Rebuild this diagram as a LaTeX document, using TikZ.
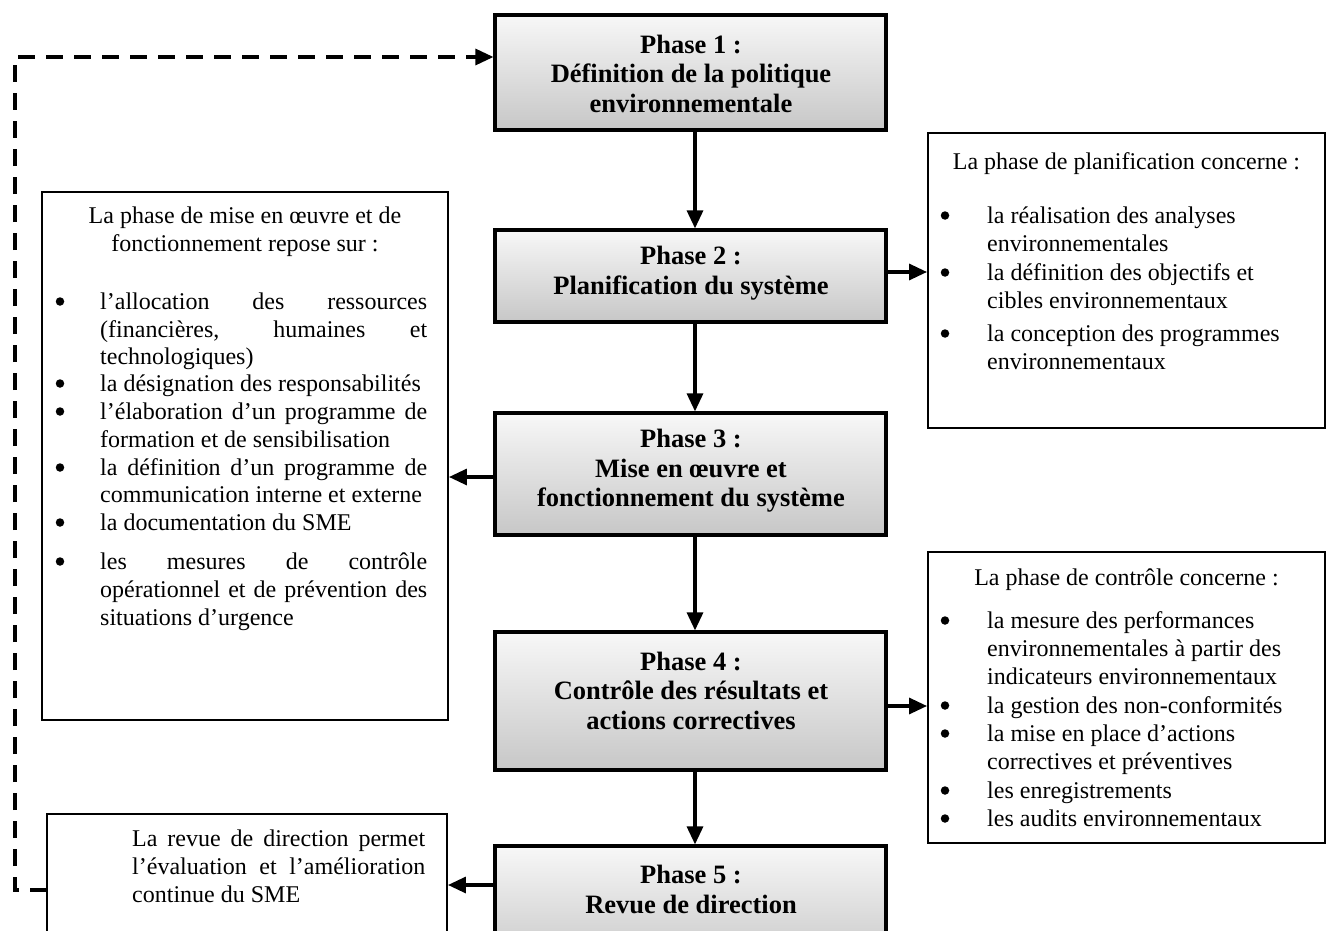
\documentclass[tikz,border=0pt]{standalone}
\usepackage{fontspec}
\setmainfont{Liberation Serif}
\usetikzlibrary{arrows.meta}
\begin{document}
\begin{tikzpicture}[x=1pt,y=-1pt,
  phasebox/.style={draw, line width=3.2pt, top color=black!3, bottom color=black!22, inner sep=0pt},
  infobox/.style={draw, line width=1.9pt, fill=white, inner sep=0pt},
  phasetxt/.style={font=\bfseries\fontsize{26.5}{29.5}\selectfont, align=center, inner sep=0pt},
  bodytxt/.style={font=\fontsize{24}{28}\selectfont, inner sep=0pt, anchor=base west},
  headtxt/.style={font=\fontsize{24}{28}\selectfont, inner sep=0pt, anchor=base},
  dot/.style={circle, fill=black, inner sep=0pt, minimum size=8.5pt, yshift=7.5pt},
  arr/.style={line width=3.2pt, -{Triangle[length=18pt,width=16pt]}},
  fback/.style={line width=3.2pt, dash pattern=on 17pt off 11pt, -{Triangle[length=18pt,width=16pt]}}]
\useasboundingbox (0,0) rectangle (1328,931);
\clip (0,0) rectangle (1328,931);

% phase boxes
\node[phasebox, minimum width=391pt, minimum height=115pt] (p1) at (690.5,72.5) {};
\node[phasebox, minimum width=391pt, minimum height=92pt] (p2) at (690.5,276) {};
\node[phasebox, minimum width=391pt, minimum height=122pt] (p3) at (690.5,474) {};
\node[phasebox, minimum width=391pt, minimum height=138pt] (p4) at (690.5,701) {};
\node[phasebox, minimum width=391pt, minimum height=120pt] (p5) at (690.5,906) {};

\node[phasetxt] (p1t) at (691,73.5) {Phase 1 :\\Définition de la politique\\environnementale};
\node[phasetxt] (p2t) at (691,273) {Phase 2 :\\Planification du système};
\node[phasetxt] (p3t) at (691,471) {Phase 3 :\\Mise en œuvre et\\fonctionnement du système};
\node[phasetxt] (p4t) at (691,690.5) {Phase 4 :\\Contrôle des résultats et\\actions correctives};
\node[phasetxt] (p5t) at (691,889.5) {Phase 5 :\\Revue de direction};

% info boxes
\node[infobox, minimum width=397pt, minimum height=295pt] (rb1) at (1126.5,280.5) {};
\node[infobox, minimum width=406pt, minimum height=528pt] (lb) at (245,456) {};
\node[infobox, minimum width=397pt, minimum height=291pt] (rb2) at (1126.5,697.5) {};
\node[infobox, minimum width=400pt, minimum height=140pt] (bb) at (247,884) {};

% right box 1
\node[headtxt] (r1h) at (1126.5,169) {La phase de planification concerne :};
\node[dot] (r1b1) at (945,223) {};
\node[bodytxt] (r1a) at (987,223) {la réalisation des analyses};
\node[bodytxt] (r1b) at (987,251) {environnementales};
\node[dot] (r1b2) at (945,280) {};
\node[bodytxt] (r1c) at (987,280) {la définition des objectifs et};
\node[bodytxt] (r1d) at (987,308) {cibles environnementaux};
\node[dot] (r1b3) at (945,341) {};
\node[bodytxt] (r1e) at (987,341) {la conception des programmes};
\node[bodytxt] (r1f) at (987,369) {environnementaux};

% left box
\node[headtxt] (lh1) at (245,223) {La phase de mise en œuvre et de};
\node[headtxt] (lh2) at (245,251) {fonctionnement repose sur :};
\node[dot] (lbb1) at (60,309) {};
\node[bodytxt] (l1) at (100,309) {\makebox[327pt][s]{l’allocation des ressources}};
\node[bodytxt] (l2) at (100,337) {\makebox[327pt][s]{(financières, humaines et}};
\node[bodytxt] (l3) at (100,364) {technologiques)};
\node[dot] (lbb2) at (60,391) {};
\node[bodytxt] (l4) at (100,391) {la désignation des responsabilités};
\node[dot] (lbb3) at (60,419) {};
\node[bodytxt] (l5) at (100,419) {\makebox[327pt][s]{l’élaboration d’un programme de}};
\node[bodytxt] (l6) at (100,447) {formation et de sensibilisation};
\node[dot] (lbb4) at (60,475) {};
\node[bodytxt] (l7) at (100,475) {\makebox[327pt][s]{la définition d’un programme de}};
\node[bodytxt] (l8) at (100,502) {communication interne et externe};
\node[dot] (lbb5) at (60,530) {};
\node[bodytxt] (l9) at (100,530) {la documentation du SME};
\node[dot] (lbb6) at (60,569) {};
\node[bodytxt] (l10) at (100,569) {\makebox[327pt][s]{les mesures de contrôle}};
\node[bodytxt] (l11) at (100,597) {\makebox[327pt][s]{opérationnel et de prévention des}};
\node[bodytxt] (l12) at (100,625) {situations d’urgence};

% right box 2
\node[headtxt] (r2h) at (1126.5,585) {La phase de contrôle concerne :};
\node[dot] (r2b1) at (945,628) {};
\node[bodytxt] (r2a) at (987,628) {la mesure des performances};
\node[bodytxt] (r2b) at (987,656) {environnementales à partir des};
\node[bodytxt] (r2c) at (987,684) {indicateurs environnementaux};
\node[dot] (r2b2) at (945,713) {};
\node[bodytxt] (r2d) at (987,713) {la gestion des non-conformités};
\node[dot] (r2b3) at (945,741) {};
\node[bodytxt] (r2e) at (987,741) {la mise en place d’actions};
\node[bodytxt] (r2f) at (987,769) {correctives et préventives};
\node[dot] (r2b4) at (945,798) {};
\node[bodytxt] (r2g) at (987,798) {les enregistrements};
\node[dot] (r2b5) at (945,826) {};
\node[bodytxt] (r2h2) at (987,826) {les audits environnementaux};

% bottom-left box
\node[bodytxt] (b1) at (132,846) {\makebox[293pt][s]{La revue de direction permet}};
\node[bodytxt] (b2) at (132,874) {\makebox[293pt][s]{l’évaluation et l’amélioration}};
\node[bodytxt] (b3) at (132,902) {continue du SME};

% connectors
\draw[arr] (p1.south -| 695,0) -- (p2.north -| 695,0);
\draw[arr] (p2.south -| 695,0) -- (p3.north -| 695,0);
\draw[arr] (p3.south -| 695,0) -- (p4.north -| 695,0);
\draw[arr] (p4.south -| 695,0) -- (p5.north -| 695,0);
\draw[arr] (p2.east |- 0,272) -- (rb1.west |- 0,272);
\draw[arr] (p3.west |- 0,477) -- (lb.east |- 0,477);
\draw[arr] (p4.east |- 0,706) -- (rb2.west |- 0,706);
\draw[arr] (p5.west |- 0,885) -- (bb.east |- 0,885);

\coordinate (c0) at (47,890);
\coordinate (c1) at (15,890);
\coordinate (c2) at (15,57);
\draw[fback] (c0) -- (c1) -- (c2) -- (c2 -| p1.west);
\end{tikzpicture}
\end{document}
